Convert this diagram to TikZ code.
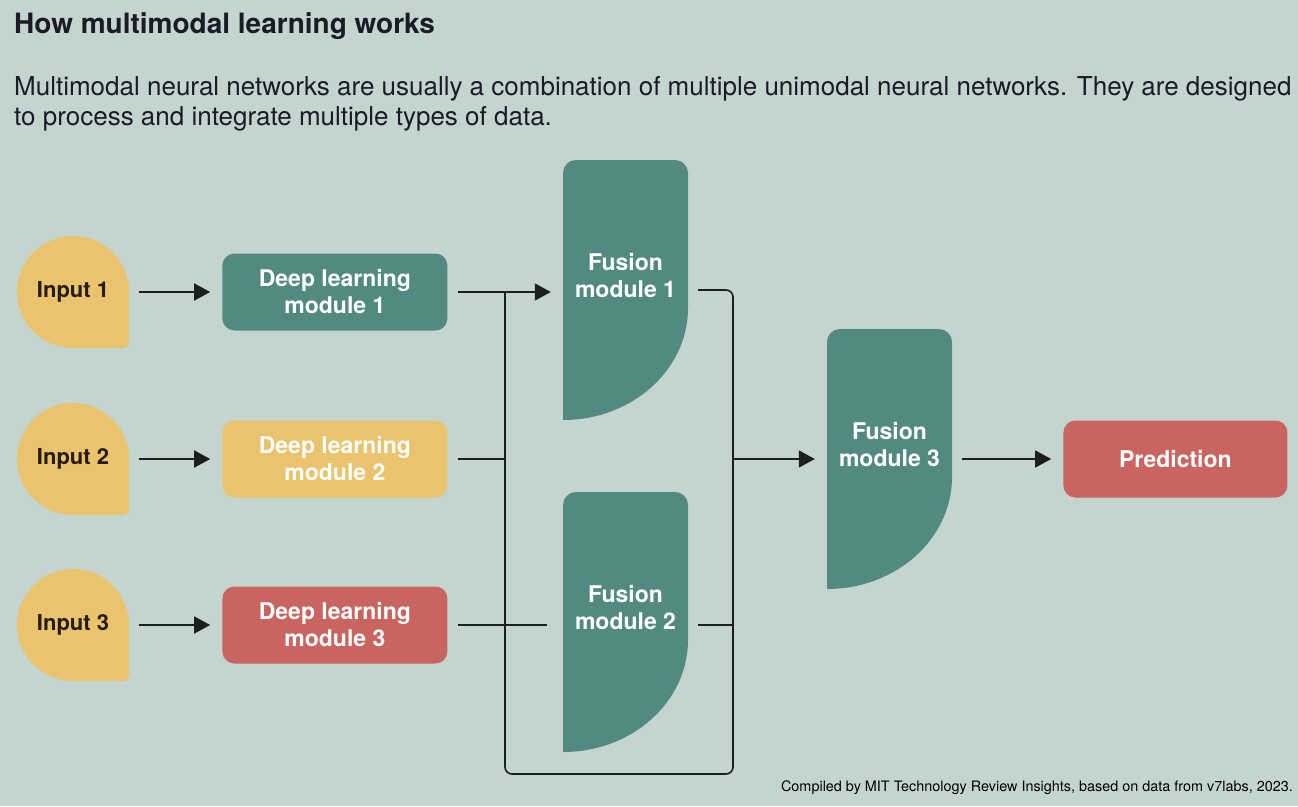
\documentclass[tikz,border=0pt]{standalone}
\usepackage{fontspec}
\setmainfont{TeX Gyre Heros}
\usepackage{tikz}
\usetikzlibrary{arrows.meta, positioning, calc}
\usepackage{xcolor}
\definecolor{bggrey}{RGB}{196,213,207}
\definecolor{mteal}{RGB}{82,138,129}
\definecolor{myellow}{RGB}{233,195,109}
\definecolor{mred}{RGB}{201,100,97}
\definecolor{inktext}{RGB}{38,28,18}
\definecolor{titleink}{RGB}{27,27,40}
\definecolor{lineink}{RGB}{30,30,30}
\tikzstyle{inputdrop} = [rectangle, minimum width=112pt, minimum height=112pt, inner sep=0pt,
    text=inktext, font=\fontsize{22}{26}\selectfont\bfseries,
    path picture={\fill[myellow] (path picture bounding box.west) arc[start angle=180, end angle=0, radius=56pt]
      -- ([yshift=6pt]path picture bounding box.south east) arc[start angle=0, end angle=-90, radius=6pt]
      -- (path picture bounding box.south) arc[start angle=270, end angle=180, radius=56pt] -- cycle;}]
\tikzstyle{dlbox} = [rectangle, rounded corners=12pt, minimum width=225pt, minimum height=77pt,
    text centered, align=center, text=white, font=\fontsize{23}{27}\selectfont\bfseries]
\tikzstyle{fusion} = [rectangle, minimum width=125pt, minimum height=260pt, inner sep=0pt,
    path picture={\fill[mteal] (path picture bounding box.south west)
      -- ([yshift=-13pt]path picture bounding box.north west) arc[start angle=180, end angle=90, radius=13pt]
      -- ([xshift=-13pt]path picture bounding box.north east) arc[start angle=90, end angle=0, radius=13pt]
      -- ([yshift=112pt]path picture bounding box.south east) arc[start angle=0, end angle=-90, x radius=125pt, y radius=112pt]
      -- cycle;}]
\tikzstyle{fusionlbl} = [align=center, text=white, font=\fontsize{23}{27}\selectfont\bfseries, yshift=14pt]
\tikzstyle{arrow} = [line width=1.6pt, draw=lineink, shorten <=10pt, shorten >=12pt, -{Triangle[length=16pt, width=17pt]}]
\tikzstyle{wire} = [line width=1.6pt, draw=lineink]

\begin{document}
\begin{tikzpicture}[x=1pt, y=-1pt]
\fill[bggrey] (0,0) rectangle (1298,806);
\useasboundingbox (0,0) rectangle (1298,806);

\node (title) [anchor=base west, inner sep=0pt, text=titleink, font=\fontsize{28}{32}\selectfont\bfseries] at (14,33) {How multimodal learning works};
\node (intro) [anchor=north west, inner sep=0pt, align=left, text=titleink, font=\fontsize{26}{30}\selectfont] at (14,76)
  {Multimodal neural networks are usually a combination of multiple unimodal neural networks. They are designed\\to process and integrate multiple types of data.};

% inputs and unimodal modules
\node (in1) [inputdrop] at (73,292) {Input 1};
\node (in2) [inputdrop] at (73,459) {Input 2};
\node (in3) [inputdrop] at (73,625) {Input 3};
\node (dl1) [dlbox, fill=mteal, right=93pt of in1] {Deep learning\\module 1};
\node (dl2) [dlbox, fill=myellow, right=93pt of in2] {Deep learning\\module 2};
\node (dl3) [dlbox, fill=mred, right=93pt of in3] {Deep learning\\module 3};

% fusion
\node (f1) [fusion, label={[fusionlbl]center:{Fusion\\module 1}}] at (625.5,290) {};
\node (f2) [fusion, label={[fusionlbl]center:{Fusion\\module 2}}] at (625.5,622) {};
\node (f3) [fusion, label={[fusionlbl]center:{Fusion\\module 3}}] at (889.5,459) {};
\node (pred) [dlbox, fill=mred, minimum width=224pt, right=111pt of f3] {Prediction};

\coordinate (jleft) at (505,292);
\coordinate (br) at (733,774);

\draw[arrow] (in1) -- (dl1);
\draw[arrow] (in2) -- (dl2);
\draw[arrow] (in3) -- (dl3);
\draw[arrow] (dl1) -- (dl1 -| f1.west);
\draw[wire, shorten <=10pt] (dl2) -- (dl2 -| jleft);
\draw[wire, shorten <=10pt, shorten >=16pt] (dl3) -- (dl3 -| f2.west);
\draw[wire, shorten <=10pt] (dl3 -| f2.east) -- (dl3 -| br);
\draw[wire, rounded corners=7pt, shorten <=10pt] (f1) -| (br) -| (jleft);
\draw[arrow, shorten <=0pt] (f3 -| br) -- (f3);
\draw[arrow] (f3) -- (pred);

\node (source) [anchor=base east, inner sep=0pt, text=black, font=\fontsize{14.4}{16}\selectfont] at (1293,791)
  {Compiled by MIT Technology Review Insights, based on data from v7labs, 2023.};
\end{tikzpicture}
\end{document}
